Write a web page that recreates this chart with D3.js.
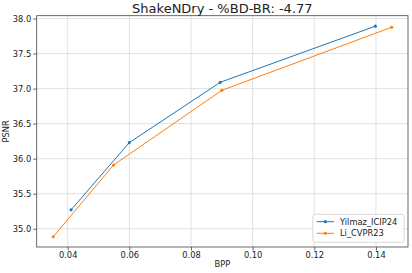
<!DOCTYPE html>
<html>
<head>
<meta charset="utf-8">
<script src="https://cdn.jsdelivr.net/npm/d3@7"></script>
<style>
  body { margin: 0; background: #fff; }
  text { font-family: "DejaVu Sans", sans-serif; fill: #222; }
</style>
</head>
<body>
<div id="chart"></div>
<script>
const width = 412, height = 273;
const margin = { top: 15.7, right: 4, bottom: 26, left: 36.7 };

const series = ['Yilmaz_ICIP24', 'Li_CVPR23'];
const colors = ['#1f77b4', '#ff7f0e'];
const bppYilmaz = [0.0411, 0.0600, 0.0895, 0.1398];
const psnrYilmaz = [35.27, 36.23, 37.09, 37.89];
const bppLi = [0.0353, 0.0549, 0.0900, 0.1451];
const psnrLi = [34.886, 35.91, 36.975, 37.875];
const xTicks = [0.04, 0.06, 0.08, 0.10, 0.12, 0.14];
const yTicks = [35.0, 35.5, 36.0, 36.5, 37.0, 37.5, 38.0];
const title = 'ShakeNDry - %BD-BR: -4.77';

const data = [
  bppYilmaz.map((b, i) => ({ x: b, y: psnrYilmaz[i] })),
  bppLi.map((b, i) => ({ x: b, y: psnrLi[i] }))
];

const svg = d3.select('#chart').append('svg')
  .attr('width', width)
  .attr('height', height);

const x = d3.scaleLinear()
  .domain([0.02995, 0.1504])
  .range([margin.left, width - margin.right]);

const y = d3.scaleLinear()
  .domain([34.74, 38.04])
  .range([height - margin.bottom, margin.top]);

// grid
svg.append('g')
  .selectAll('line.gx')
  .data(xTicks)
  .join('line')
  .attr('x1', d => x(d)).attr('x2', d => x(d))
  .attr('y1', margin.top).attr('y2', height - margin.bottom)
  .attr('stroke', '#dadada').attr('stroke-width', 0.8);

svg.append('g')
  .selectAll('line.gy')
  .data(yTicks)
  .join('line')
  .attr('y1', d => y(d)).attr('y2', d => y(d))
  .attr('x1', margin.left).attr('x2', width - margin.right)
  .attr('stroke', '#dadada').attr('stroke-width', 0.8);

// axes
const xAxis = svg.append('g')
  .attr('transform', `translate(0,${height - margin.bottom})`)
  .call(d3.axisBottom(x).tickValues(xTicks).tickFormat(d3.format('.2f')).tickSize(3.5).tickPadding(2));

const yAxis = svg.append('g')
  .attr('transform', `translate(${margin.left},0)`)
  .call(d3.axisLeft(y).tickValues(yTicks).tickFormat(d3.format('.1f')).tickSize(3.5).tickPadding(2));

[xAxis, yAxis].forEach(a => {
  a.select('.domain').remove();
  a.selectAll('line').attr('stroke', '#444').attr('stroke-width', 0.8);
  a.selectAll('text').style('font-size', '8.3px').attr('fill', '#222');
});

// frame
svg.append('rect')
  .attr('x', margin.left).attr('y', margin.top)
  .attr('width', width - margin.right - margin.left)
  .attr('height', height - margin.bottom - margin.top)
  .attr('fill', 'none').attr('stroke', '#444').attr('stroke-width', 0.8);

// lines
const line = d3.line().x(d => x(d.x)).y(d => y(d.y));

data.forEach((s, i) => {
  svg.append('path')
    .datum(s)
    .attr('d', line)
    .attr('fill', 'none')
    .attr('stroke', colors[i])
    .attr('stroke-width', 1);
  svg.append('g')
    .selectAll('circle')
    .data(s)
    .join('circle')
    .attr('cx', d => x(d.x)).attr('cy', d => y(d.y))
    .attr('r', 1.6)
    .attr('fill', colors[i]);
});

// labels
svg.append('text')
  .attr('x', (margin.left + width - margin.right) / 2)
  .attr('y', 13.3)
  .attr('text-anchor', 'middle')
  .style('font-size', '13px')
  .text(title);

svg.append('text')
  .attr('x', (margin.left + width - margin.right) / 2)
  .attr('y', 267)
  .attr('text-anchor', 'middle')
  .style('font-size', '8.3px')
  .text('BPP');

svg.append('text')
  .attr('transform', `translate(9,${(margin.top + height - margin.bottom) / 2}) rotate(-90)`)
  .attr('text-anchor', 'middle')
  .style('font-size', '8.3px')
  .text('PSNR');

// legend
const legend = svg.append('g').attr('transform', 'translate(312.7,214.3)');
legend.append('rect')
  .attr('width', 91.3).attr('height', 28)
  .attr('rx', 2)
  .attr('fill', '#fff').attr('fill-opacity', 0.8)
  .attr('stroke', '#d0d0d0').attr('stroke-width', 0.8);

series.forEach((name, i) => {
  const g = legend.append('g').attr('transform', `translate(0,${7.4 + i * 11.6})`);
  g.append('line')
    .attr('x1', 4).attr('x2', 21.3)
    .attr('stroke', colors[i]).attr('stroke-width', 1);
  g.append('circle')
    .attr('cx', 12.6).attr('r', 1.6).attr('fill', colors[i]);
  g.append('text')
    .attr('x', 27.3).attr('dy', '0.35em')
    .style('font-size', '8.3px')
    .text(name);
});
</script>
</body>
</html>
